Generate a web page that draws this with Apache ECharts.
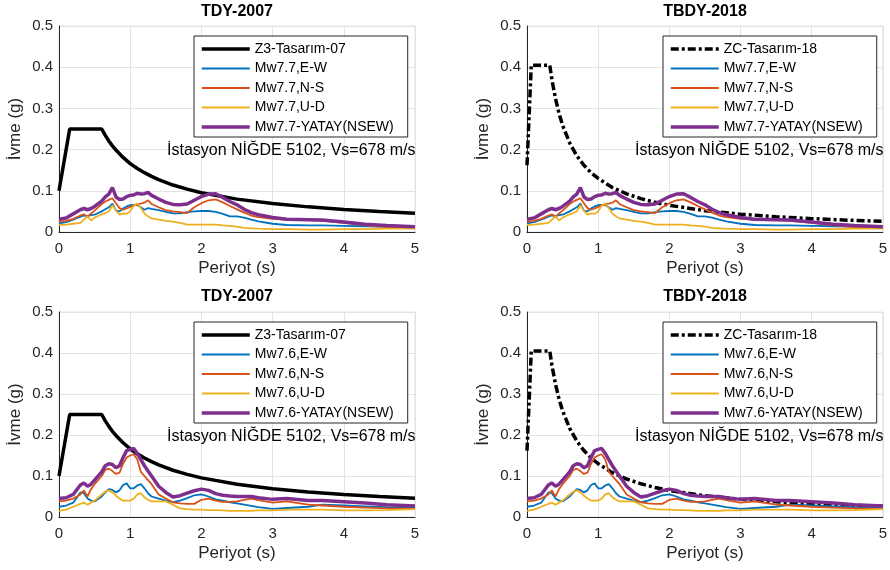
<!DOCTYPE html>
<html>
<head>
<meta charset="utf-8">
<script src="https://cdn.jsdelivr.net/npm/echarts@6/dist/echarts.min.js"></script>
<style>
html,body{margin:0;padding:0;background:#fff;}
#chart{width:890px;height:570px;}
</style>
</head>
<body>
<div id="chart"></div>
<script>
// ---------- data ----------
const panelTitles = ['TDY-2007', 'TBDY-2018', 'TDY-2007', 'TBDY-2018'];
const annotation = 'İstasyon NİĞDE 5102, Vs=678 m/s';
const xTicks = [0, 1, 2, 3, 4, 5];
const yTicks = [0, 0.1, 0.2, 0.3, 0.4, 0.5];

// design spectra
const z3T = [0, 0.15, 0.6, 0.65, 0.7, 0.75, 0.8, 0.9, 1.0, 1.1, 1.2, 1.3, 1.4, 1.6, 1.8, 2.0, 2.5, 3.0, 3.5, 4.0, 4.5, 5.0];
const z3V = [0.10, 0.25, 0.25, 0.2345, 0.221, 0.209, 0.199, 0.181, 0.166, 0.154, 0.144, 0.135, 0.127, 0.114, 0.104, 0.0954, 0.0798, 0.069, 0.061, 0.0548, 0.0499, 0.0458];
const zcT = [0, 0.06, 0.32, 0.35, 0.4, 0.45, 0.5, 0.6, 0.7, 0.8, 0.9, 1.0, 1.2, 1.4, 1.6, 1.8, 2.0, 2.5, 3.0, 3.5, 4.0, 4.5, 5.0];
const zcV = [0.162, 0.405, 0.405, 0.370, 0.324, 0.288, 0.259, 0.216, 0.185, 0.162, 0.144, 0.130, 0.108, 0.0926, 0.081, 0.072, 0.0648, 0.0518, 0.0432, 0.037, 0.0324, 0.0288, 0.0259];

// response spectra period grid
const periods = [0, 0.1, 0.2, 0.3, 0.35, 0.4, 0.45, 0.5, 0.6, 0.65, 0.7, 0.75, 0.8, 0.85, 0.9, 0.95, 1.0, 1.05, 1.1, 1.15, 1.2, 1.25, 1.3, 1.4, 1.5, 1.6, 1.7, 1.8, 1.9, 2.0, 2.1, 2.2, 2.3, 2.4, 2.5, 2.6, 2.7, 2.8, 3.0, 3.2, 3.5, 3.7, 4.0, 4.3, 4.6, 5.0];

// Mw7.7
const ew77 = [0.021, 0.024, 0.030, 0.037, 0.040, 0.039, 0.041, 0.042, 0.050, 0.055, 0.060, 0.069, 0.052, 0.050, 0.057, 0.062, 0.065, 0.066, 0.065, 0.060, 0.054, 0.058, 0.056, 0.053, 0.049, 0.045, 0.045, 0.048, 0.050, 0.051, 0.051, 0.049, 0.044, 0.038, 0.038, 0.035, 0.030, 0.026, 0.020, 0.017, 0.016, 0.016, 0.015, 0.014, 0.013, 0.011];
const ns77 = [0.025, 0.027, 0.032, 0.040, 0.043, 0.036, 0.045, 0.052, 0.068, 0.074, 0.078, 0.082, 0.070, 0.058, 0.054, 0.057, 0.061, 0.064, 0.068, 0.069, 0.071, 0.077, 0.068, 0.060, 0.053, 0.050, 0.048, 0.046, 0.060, 0.070, 0.077, 0.079, 0.072, 0.063, 0.055, 0.047, 0.040, 0.036, 0.032, 0.030, 0.029, 0.027, 0.022, 0.016, 0.012, 0.010];
const ud77 = [0.017, 0.018, 0.020, 0.022, 0.030, 0.038, 0.028, 0.035, 0.043, 0.046, 0.050, 0.065, 0.052, 0.042, 0.045, 0.044, 0.050, 0.064, 0.069, 0.058, 0.045, 0.038, 0.033, 0.030, 0.027, 0.025, 0.022, 0.018, 0.018, 0.018, 0.018, 0.018, 0.016, 0.015, 0.013, 0.010, 0.009, 0.008, 0.007, 0.007, 0.006, 0.006, 0.007, 0.007, 0.008, 0.008];
const hz77 = [0.031, 0.034, 0.044, 0.054, 0.057, 0.054, 0.057, 0.062, 0.075, 0.085, 0.092, 0.108, 0.085, 0.079, 0.080, 0.086, 0.089, 0.090, 0.094, 0.092, 0.093, 0.096, 0.089, 0.080, 0.072, 0.067, 0.066, 0.068, 0.077, 0.086, 0.092, 0.093, 0.084, 0.074, 0.066, 0.055, 0.047, 0.042, 0.035, 0.031, 0.030, 0.029, 0.024, 0.019, 0.016, 0.013];

// Mw7.6
const ew76 = [0.025, 0.028, 0.035, 0.060, 0.058, 0.045, 0.040, 0.038, 0.050, 0.060, 0.068, 0.066, 0.060, 0.065, 0.078, 0.082, 0.070, 0.070, 0.077, 0.080, 0.070, 0.058, 0.050, 0.045, 0.040, 0.036, 0.040, 0.046, 0.053, 0.055, 0.050, 0.043, 0.040, 0.036, 0.033, 0.030, 0.027, 0.024, 0.020, 0.022, 0.025, 0.030, 0.028, 0.026, 0.024, 0.022];
const ns76 = [0.038, 0.040, 0.045, 0.055, 0.065, 0.050, 0.068, 0.080, 0.100, 0.115, 0.118, 0.112, 0.105, 0.108, 0.130, 0.145, 0.150, 0.153, 0.140, 0.110, 0.100, 0.090, 0.080, 0.055, 0.045, 0.036, 0.033, 0.032, 0.032, 0.042, 0.045, 0.040, 0.037, 0.037, 0.038, 0.042, 0.045, 0.041, 0.035, 0.038, 0.030, 0.028, 0.025, 0.023, 0.021, 0.020];
const ud76 = [0.015, 0.018, 0.025, 0.032, 0.035, 0.030, 0.035, 0.040, 0.055, 0.062, 0.065, 0.060, 0.052, 0.045, 0.040, 0.040, 0.040, 0.045, 0.055, 0.058, 0.048, 0.042, 0.038, 0.038, 0.038, 0.030, 0.021, 0.019, 0.018, 0.018, 0.017, 0.017, 0.016, 0.015, 0.015, 0.015, 0.015, 0.016, 0.016, 0.018, 0.018, 0.018, 0.016, 0.016, 0.017, 0.019];
const hz76 = [0.045, 0.047, 0.055, 0.078, 0.083, 0.075, 0.080, 0.090, 0.110, 0.125, 0.130, 0.128, 0.120, 0.125, 0.145, 0.162, 0.165, 0.167, 0.155, 0.140, 0.125, 0.112, 0.100, 0.075, 0.060, 0.049, 0.052, 0.058, 0.064, 0.068, 0.065, 0.057, 0.053, 0.051, 0.050, 0.050, 0.050, 0.047, 0.043, 0.045, 0.040, 0.040, 0.037, 0.034, 0.030, 0.027];

// ---------- build ----------
const FONT = '"Liberation Sans", Arial, Helvetica, sans-serif';
const C_EW = '#0072BD', C_NS = '#D95319', C_UD = '#EDB120', C_HZ = '#7E2F8E';
const zip = (xs, ys) => xs.map((x, i) => [x, ys[i]]);

const grids = [
  {left: 59, top: 26, width: 356, height: 206},
  {left: 527, top: 26, width: 356, height: 206},
  {left: 59, top: 312, width: 356, height: 205},
  {left: 527, top: 312, width: 356, height: 205}
];

const DASHDOT = [8, 3, 3, 3];
const panels = [
  {design: ['Z3-Tasarım-07', z3T, z3V, 'solid'], mw: '7.7', ew: ew77, ns: ns77, ud: ud77, hz: hz77},
  {design: ['ZC-Tasarım-18', zcT, zcV, DASHDOT], mw: '7.7', ew: ew77, ns: ns77, ud: ud77, hz: hz77},
  {design: ['Z3-Tasarım-07', z3T, z3V, 'solid'], mw: '7.6', ew: ew76, ns: ns76, ud: ud76, hz: hz76},
  {design: ['ZC-Tasarım-18', zcT, zcV, DASHDOT], mw: '7.6', ew: ew76, ns: ns76, ud: ud76, hz: hz76}
];

const legendPos = [
  {left: 194, top: 36}, {left: 663, top: 36},
  {left: 194, top: 322}, {left: 663, top: 322}
];
const annotPos = [[167, 151], [635, 151], [167, 437], [635, 437]];
const titlePos = [[237, 12], [705, 12], [237, 297], [705, 297]];

const series = [], legends = [], xAxes = [], yAxes = [], graphics = [];

panels.forEach((p, i) => {
  xAxes.push({
    gridIndex: i, type: 'value', min: xTicks[0], max: xTicks[xTicks.length - 1], interval: 1,
    name: 'Periyot (s)', nameLocation: 'middle', nameGap: 28,
    nameTextStyle: {fontSize: 17, color: '#262626', fontFamily: FONT},
    axisLine: {show: true, onZero: false, lineStyle: {color: '#262626', width: 1}},
    axisTick: {show: false},
    axisLabel: {fontSize: 15, color: '#262626', fontFamily: FONT, margin: 9},
    splitLine: {show: true, lineStyle: {color: '#e3e3e3', width: 1}}
  });
  yAxes.push({
    gridIndex: i, type: 'value', min: yTicks[0], max: yTicks[yTicks.length - 1], interval: 0.1,
    name: 'İvme (g)', nameLocation: 'middle', nameGap: 35,
    nameTextStyle: {fontSize: 17, color: '#262626', fontFamily: FONT},
    axisLine: {show: true, onZero: false, lineStyle: {color: '#262626', width: 1}},
    axisTick: {show: false},
    axisLabel: {fontSize: 15, color: '#262626', fontFamily: FONT, margin: 6},
    splitLine: {show: true, lineStyle: {color: '#e3e3e3', width: 1}}
  });
  const names = [
    p.design[0],
    'Mw' + p.mw + ',E-W', 'Mw' + p.mw + ',N-S', 'Mw' + p.mw + ',U-D', 'Mw' + p.mw + '-YATAY(NSEW)'
  ];
  const styles = [
    {color: '#000', width: 3.5, type: p.design[3]},
    {color: C_EW, width: 1.8, type: 'solid'},
    {color: C_NS, width: 1.8, type: 'solid'},
    {color: C_UD, width: 1.8, type: 'solid'},
    {color: C_HZ, width: 3.5, type: 'solid'}
  ];
  const datas = [zip(p.design[1], p.design[2]), zip(periods, p.ew), zip(periods, p.ns), zip(periods, p.ud), zip(periods, p.hz)];
  names.forEach((nm, k) => {
    series.push({
      type: 'line', name: nm, xAxisIndex: i, yAxisIndex: i, data: datas[k],
      showSymbol: false, symbol: 'none', smooth: false, animation: false, z: 3 + k,
      lineStyle: styles[k], itemStyle: {color: styles[k].color}
    });
  });

  legends.push({
    left: legendPos[i].left, top: legendPos[i].top, orient: 'vertical',
    data: names.map((nm, k) => ({name: nm, lineStyle: {width: styles[k].width}})),
    itemWidth: 48, itemHeight: 14, itemGap: 5.5,
    itemStyle: {opacity: 0},
    padding: [6, 14, 3, 6], backgroundColor: '#fff', borderColor: '#262626', borderWidth: 1,
    textStyle: {fontSize: 14, color: '#000', fontFamily: FONT},
    selectedMode: false
  });

  graphics.push({type: 'text', x: annotPos[i][0], y: annotPos[i][1], z: 100,
    style: {text: annotation, fontSize: 16, fontFamily: FONT, fill: '#000', align: 'left', verticalAlign: 'middle'}});
  graphics.push({type: 'text', x: titlePos[i][0], y: titlePos[i][1], z: 100,
    style: {text: panelTitles[i], fontSize: 16, fontWeight: 'bold', fontFamily: FONT, fill: '#000', align: 'center', verticalAlign: 'middle'}});
});

const chart = echarts.init(document.getElementById('chart'), null, {renderer: 'canvas'});
chart.setOption({
  animation: false,
  backgroundColor: '#fff',
  grid: grids.map(g => Object.assign({show: true, borderColor: '#e3e3e3', borderWidth: 1, backgroundColor: 'transparent'}, g)),
  xAxis: xAxes,
  yAxis: yAxes,
  legend: legends,
  series: series,
  graphic: graphics
});
</script>
</body>
</html>
